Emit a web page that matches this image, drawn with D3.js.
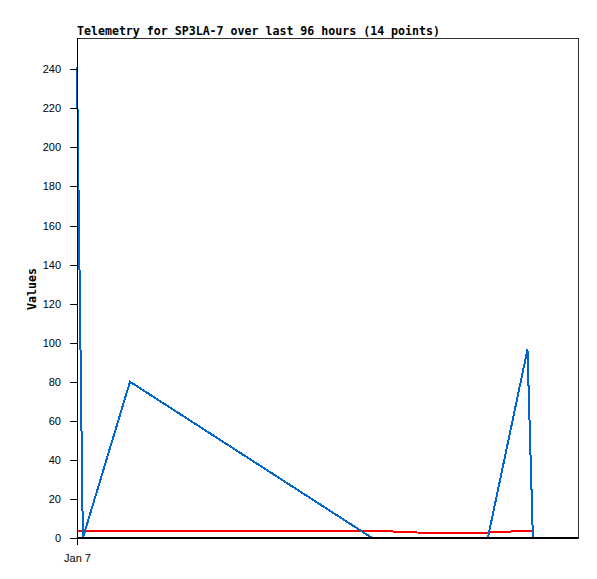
<!DOCTYPE html>
<html>
<head>
<meta charset="utf-8">
<script src="https://cdn.jsdelivr.net/npm/d3@7"></script>
<style>
    body { margin: 0; background: #fff; }
    .axis text { font-family: "Liberation Sans", Arial, sans-serif; font-size: 11px; fill: #000; }
    .axis path, .axis line { stroke: #000; shape-rendering: crispEdges; }
    .title { font-family: "DejaVu Sans Mono", monospace; font-weight: bold; font-size: 11.6px; }
</style>
</head>
<body>
<div class="chart"></div>
<script>
// telemetry samples, minutes after Jan 7 00:00
var times = [0, 14, 127, 707, 740, 769, 817, 850, 890, 930, 960, 984, 1079, 1092];
var blueValues = [241, 0, 80, 0, 0, 0, 0, 0, 0, 0, 0, 0, 96.5, 0];
var redValues = [3.7, 3.7, 3.7, 3.7, 3.5, 3.2, 2.8, 2.8, 2.8, 2.8, 2.8, 2.8, 3.7, 3.7];
var yTicks = [0, 20, 40, 60, 80, 100, 120, 140, 160, 180, 200, 220, 240];
var xTickLabels = ["Jan 7"];

var margins = { top: 38, right: 19, bottom: 41, left: 77 };
var width = 597 - margins.left - margins.right;
var height = 579 - margins.top - margins.bottom;

var start = new Date(2024, 0, 7, 0, 0);
var dates = times.map(function (m) { return new Date(start.getTime() + m * 60000); });

var x = d3.scaleTime()
    .domain([start, new Date(start.getTime() + 1200 * 60000)])
    .range([0, width]);

var y = d3.scaleLinear()
    .domain([0, 256])
    .range([height, 0]);

var svg = d3.select(".chart").append("svg")
    .attr("width", 597)
    .attr("height", 579)
    .append("g")
    .attr("transform", "translate(" + margins.left + "," + margins.top + ")");

// frame
svg.append("rect")
    .attr("x", 0).attr("y", 0)
    .attr("width", width).attr("height", height)
    .attr("fill", "none")
    .attr("stroke", "#333")
    .style("shape-rendering", "crispEdges");

var line = function (vals) {
    return d3.line()
        .x(function (d, i) { return x(dates[i]); })
        .y(function (d) { return y(d); })(vals);
};

svg.append("path")
    .attr("d", line(redValues))
    .attr("fill", "none")
    .attr("stroke", "#ff0000")
    .attr("stroke-width", 2)
    .style("shape-rendering", "crispEdges");

svg.append("path")
    .attr("d", line(blueValues))
    .attr("fill", "none")
    .attr("stroke", "#0066cc")
    .attr("stroke-width", 2)
    .style("shape-rendering", "crispEdges");

// y axis
svg.append("g")
    .attr("class", "axis")
    .call(d3.axisLeft(y).tickValues(yTicks).tickSize(7).tickPadding(9).tickSizeOuter(0))
    .select(".domain").remove();

svg.append("line")
    .attr("x1", 0).attr("x2", 0)
    .attr("y1", 0).attr("y2", height)
    .attr("stroke", "#000")
    .style("shape-rendering", "crispEdges");

// x axis
svg.append("g")
    .attr("class", "axis")
    .attr("transform", "translate(0," + height + ")")
    .call(d3.axisBottom(x).tickValues([start]).tickSize(7).tickPadding(9).tickSizeOuter(0)
        .tickFormat(function (d, i) { return xTickLabels[i]; }))
    .select(".domain").remove();

svg.append("line")
    .attr("x1", 0).attr("x2", width)
    .attr("y1", height - 0.5).attr("y2", height - 0.5)
    .attr("stroke", "#000")
    .attr("stroke-width", 2)
    .style("shape-rendering", "crispEdges");

svg.append("text")
    .attr("class", "title")
    .attr("x", 0)
    .attr("y", -3)
    .text("Telemetry for SP3LA-7 over last 96 hours (14 points)");

svg.append("text")
    .attr("class", "title")
    .attr("transform", "translate(-41," + (height / 2 + 1) + ") rotate(-90)")
    .attr("text-anchor", "middle")
    .text("Values");
</script>
</body>
</html>
